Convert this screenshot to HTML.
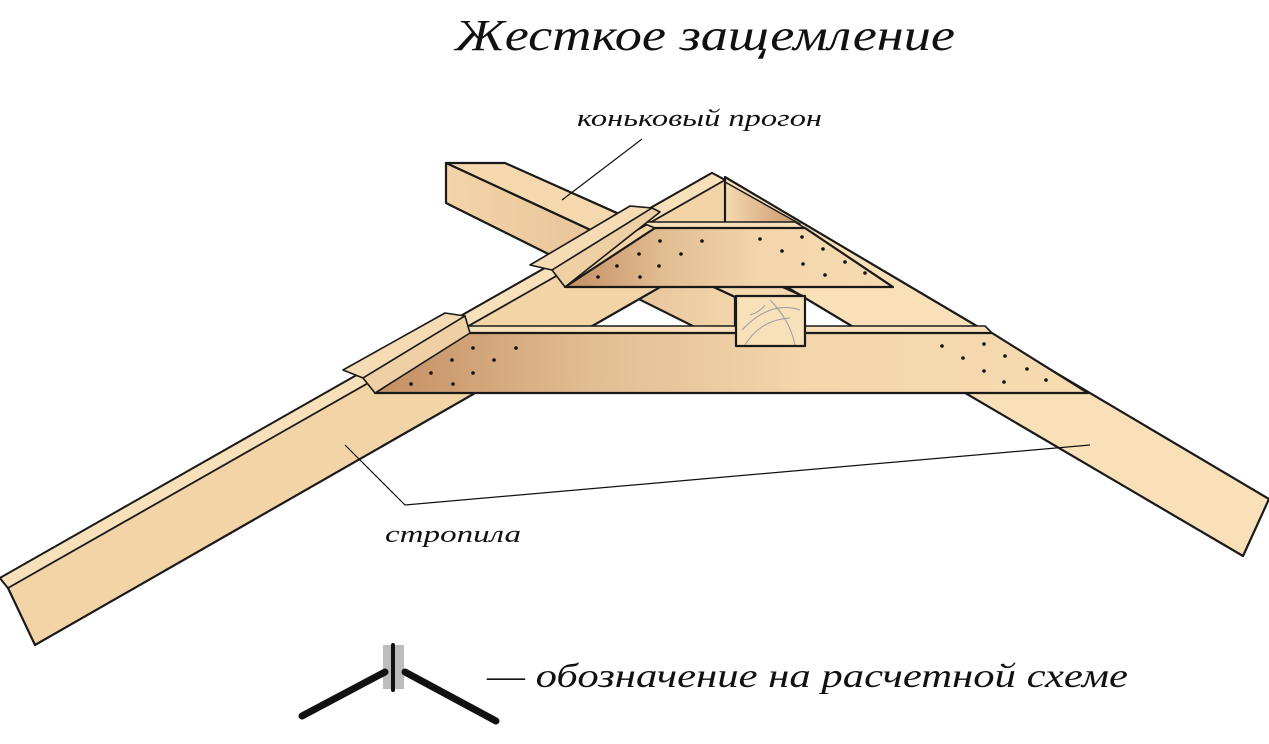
<!DOCTYPE html>
<html><head><meta charset="utf-8"><style>
html,body{margin:0;padding:0;background:#fff;width:1269px;height:744px;overflow:hidden}
svg{display:block}
text{font-family:"Liberation Serif","DejaVu Serif",serif;font-style:italic}
</style></head><body>
<svg width="1269" height="744" viewBox="0 0 1269 744" xmlns="http://www.w3.org/2000/svg">
<defs>
<linearGradient id="dk" x1="0" y1="0" x2="1" y2="0"><stop offset="0" stop-color="#c48e62"/><stop offset="0.3" stop-color="#e2bd92"/><stop offset="0.6" stop-color="#f3d6ac"/><stop offset="1" stop-color="#f6dab0"/></linearGradient>
<linearGradient id="dk2" x1="0" y1="0" x2="1" y2="0"><stop offset="0" stop-color="#f3d4a8"/><stop offset="0.6" stop-color="#e6c297"/><stop offset="1" stop-color="#f3d6ac"/></linearGradient>
<linearGradient id="pk" x1="0" y1="0" x2="1" y2="0"><stop offset="0" stop-color="#f6dab0"/><stop offset="1" stop-color="#c9946a"/></linearGradient>
</defs>
<g stroke="#1a1a1a" stroke-width="2.2" stroke-linejoin="round">
<!-- right rafter -->
<polygon points="725,177 1269,499 1243,556 880,343 725,250" fill="#f9e0b8"/>
<polygon points="725,182 800,224 725,224" fill="url(#pk)" stroke-width="1.5"/>
<!-- ridge beam -->
<polygon points="446,163 505,163 805,297 735,297" fill="#f5d8ae"/>
<polygon points="446,163 735,297 735,347 446,203" fill="url(#dk2)"/>
<!-- left rafter -->
<polygon points="0,578 712,173 725,180 725,250 35,645 8,588" fill="#f3d4a6"/>
<polygon points="0,578 712,173 725,180 8,588" fill="#f8e0ba" stroke-width="1.8"/>
<!-- upper crossbar -->
<polygon points="640,222 795,222 805,228 655,228" fill="#f8e0ba" stroke-width="1.6"/>
<polygon points="655,228 805,228 893,287 565,287" fill="url(#dk)"/>
<!-- upper plate -->
<polygon points="530,265 630,206 652,208 552,270" fill="#f6dcb4" stroke-width="1.6"/>
<polygon points="552,270 652,208 660,212 565,287" fill="#efd0a4" stroke-width="1.6"/>
<!-- lower crossbar -->
<polygon points="455,326 985,326 992,333 465,333" fill="#f8e0ba" stroke-width="1.6"/>
<polygon points="465,333 992,333 1088,393 375,393" fill="url(#dk)"/>
<!-- lower plate -->
<polygon points="343,370 445,313 465,316 363,378" fill="#f6dcb4" stroke-width="1.6"/>
<polygon points="363,378 465,316 470,333 375,393" fill="#efd0a4" stroke-width="1.6"/>
<!-- beam end box in front -->
<rect x="736" y="296" width="69" height="50" fill="#f8e0b8"/>
</g>
<!-- end grain -->
<g fill="none" stroke="#9a9aa8" stroke-width="1">
<path d="M742,330 Q770,300 800,310"/><path d="M745,345 Q760,320 790,318"/><path d="M770,300 Q790,320 795,345"/><path d="M750,315 Q760,312 765,305"/>
</g>
<!-- dots -->
<g fill="#111">
<circle cx="660" cy="241" r="1.8"/><circle cx="702" cy="241" r="1.8"/><circle cx="639" cy="254" r="1.8"/><circle cx="681" cy="254" r="1.8"/><circle cx="617" cy="266" r="1.8"/><circle cx="659" cy="266" r="1.8"/><circle cx="598" cy="277" r="1.8"/><circle cx="640" cy="277" r="1.8"/>
<circle cx="760" cy="239" r="1.8"/><circle cx="802" cy="237" r="1.8"/><circle cx="782" cy="251" r="1.8"/><circle cx="823" cy="249" r="1.8"/><circle cx="803" cy="264" r="1.8"/><circle cx="845" cy="262" r="1.8"/><circle cx="825" cy="275" r="1.8"/><circle cx="865" cy="273" r="1.8"/>
<circle cx="473" cy="348" r="1.8"/><circle cx="516" cy="348" r="1.8"/><circle cx="452" cy="360" r="1.8"/><circle cx="494" cy="360" r="1.8"/><circle cx="431" cy="373" r="1.8"/><circle cx="473" cy="373" r="1.8"/><circle cx="411" cy="384" r="1.8"/><circle cx="453" cy="384" r="1.8"/>
<circle cx="942" cy="346" r="1.8"/><circle cx="984" cy="344" r="1.8"/><circle cx="963" cy="358" r="1.8"/><circle cx="1005" cy="356" r="1.8"/><circle cx="984" cy="371" r="1.8"/><circle cx="1027" cy="369" r="1.8"/><circle cx="1004" cy="382" r="1.8"/><circle cx="1046" cy="380" r="1.8"/>
</g>
<!-- leaders -->
<g stroke="#111" stroke-width="1.2" fill="none">
<line x1="642" y1="139" x2="562" y2="200"/>
<polyline points="345,445 405,505 1090,445"/>
</g>
<text x="455" y="50" font-size="44" fill="#111" textLength="500" lengthAdjust="spacingAndGlyphs">Жесткое защемление</text>
<text x="577" y="126" font-size="24" fill="#111" textLength="245" lengthAdjust="spacingAndGlyphs">коньковый прогон</text>
<text x="385" y="542" font-size="24" fill="#111" textLength="136" lengthAdjust="spacingAndGlyphs">стропила</text>
<text x="487" y="687" font-size="34" fill="#111" textLength="641" lengthAdjust="spacingAndGlyphs">— обозначение на расчетной схеме</text>
<!-- symbol -->
<rect x="383" y="645" width="21" height="44" fill="#bdbdbd"/>
<g stroke="#111" stroke-width="7" stroke-linecap="round">
<line x1="302" y1="716" x2="385" y2="672"/>
<line x1="405" y1="672" x2="496" y2="721"/>
</g>
<line x1="393" y1="645" x2="393" y2="690" stroke="#111" stroke-width="4" stroke-linecap="round"/>
</svg>
</body></html>
